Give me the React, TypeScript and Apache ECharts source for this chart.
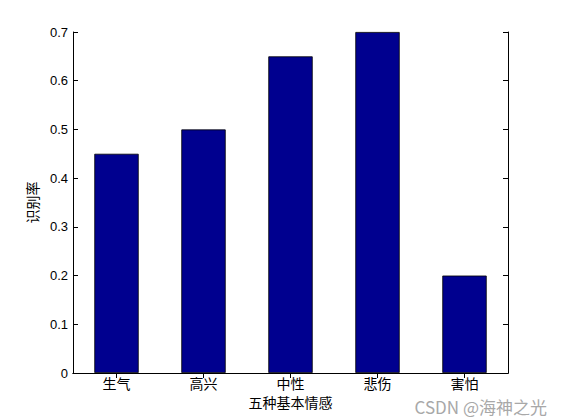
import React, { useEffect, useRef } from "react";
import * as echarts from "echarts";

const categories = ["生气", "高兴", "中性", "悲伤", "害怕"];
const rates = [0.45, 0.5, 0.65, 0.7, 0.2];
const yMin = 0;
const yMax = 0.7;
const yStep = 0.1;
const xName = "五种基本情感";
const yName = "识别率";
const watermark = "CSDN @海神之光";

const latin = "'Liberation Sans', Arial, sans-serif";
const cjk = "'Noto Sans CJK SC', 'Liberation Sans', sans-serif";

export default function App() {
  const ref = useRef<HTMLDivElement>(null);
  useEffect(() => {
    if (!ref.current) return;
    const chart = echarts.init(ref.current, undefined, { renderer: "svg" });
    const line = { show: true, lineStyle: { color: "#000", width: 1 } };
    chart.setOption({
      animation: false,
      backgroundColor: "#fff",
      grid: { left: 73, right: 53, top: 32, bottom: 47, containLabel: false },
      xAxis: [
        {
          type: "category",
          data: categories,
          position: "bottom",
          axisLine: line,
          axisTick: { show: false },
          axisLabel: { color: "#000", fontFamily: cjk, fontSize: 14, margin: 3, lineHeight: 14 },
          name: xName,
          nameLocation: "middle",
          nameGap: 21,
          nameTextStyle: { color: "#000", fontFamily: cjk, fontSize: 14 },
        },
        {
          type: "category",
          data: categories,
          position: "top",
          axisLine: line,
          axisTick: { show: true, inside: true, length: 5, alignWithLabel: true, lineStyle: { color: "#000" } },
          axisLabel: { show: false },
        },
      ],
      yAxis: [
        {
          type: "value",
          min: yMin,
          max: yMax,
          interval: yStep,
          position: "left",
          axisLine: line,
          axisTick: { show: true, inside: true, length: 5, lineStyle: { color: "#000" } },
          axisLabel: { color: "#000", fontFamily: latin, fontSize: 13, margin: 5 },
          splitLine: { show: false },
          name: yName,
          nameLocation: "middle",
          nameGap: 31,
          nameTextStyle: { color: "#000", fontFamily: cjk, fontSize: 14 },
        },
        {
          type: "value",
          min: yMin,
          max: yMax,
          interval: yStep,
          position: "right",
          axisLine: line,
          axisTick: { show: true, inside: true, length: 5, lineStyle: { color: "#000" } },
          axisLabel: { show: false },
          splitLine: { show: false },
        },
      ],
      series: [
        {
          type: "bar",
          data: rates,
          xAxisIndex: 0,
          yAxisIndex: 0,
          barWidth: "51%",
          itemStyle: { color: "#00008F", borderColor: "#000", borderWidth: 0.8 },
        },
      ],
      graphic: [
        {
          type: "text",
          right: 14,
          top: 398,
          style: { text: watermark, fill: "#a8a8a8", font: `17px ${cjk}`, lineHeight: 17 },
        },
      ],
    });
    return () => chart.dispose();
  }, []);
  return (
    <div
      ref={ref}
      style={{ position: "absolute", left: 0, top: 0, width: 561, height: 420, background: "#fff" }}
    />
  );
}
